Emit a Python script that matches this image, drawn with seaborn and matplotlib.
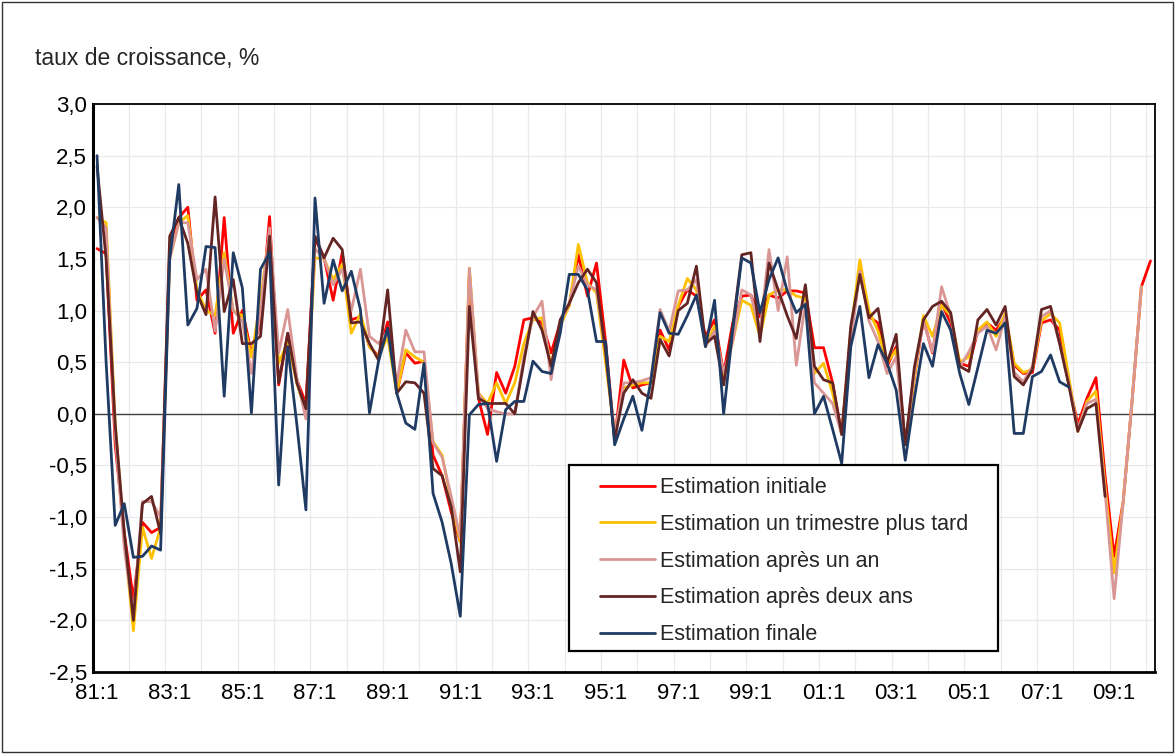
import numpy as np
import pandas as pd
import matplotlib
matplotlib.use("Agg")
import matplotlib.pyplot as plt
from matplotlib.patches import Rectangle
import seaborn as sns

# --- données (taux de croissance trimestriel, %) 81:1 -> 10:1 ---
initiale = [1.60, 1.55, -0.30, -1.15, -1.80, -1.05, -1.15, -1.10, 1.60, 1.90,
            2.00, 1.10, 1.20, 0.78, 1.90, 0.78, 1.00, 0.59, 0.88, 1.91,
            0.28, 0.78, 0.33, 0.10, 1.70, 1.51, 1.10, 1.56, 0.91, 0.94,
            0.65, 0.56, 0.89, 0.20, 0.59, 0.49, 0.51, -0.40, -0.60, -0.95,
            -1.24, 1.35, 0.15, -0.20, 0.40, 0.20, 0.46, 0.91, 0.93, 0.88,
            0.59, 0.88, 1.05, 1.54, 1.14, 1.46, 0.70, -0.25, 0.52, 0.25,
            0.28, 0.30, 0.81, 0.62, 1.04, 1.20, 1.14, 0.75, 0.91, 0.39,
            0.88, 1.14, 1.15, 0.94, 1.15, 1.12, 1.19, 1.19, 1.17, 0.64,
            0.64, 0.30, -0.20, 0.75, 1.40, 0.94, 0.88, 0.46, 0.65, -0.30,
            0.35, 0.91, 0.59, 1.07, 0.88, 0.49, 0.46, 0.81, 0.88, 0.81,
            0.94, 0.47, 0.39, 0.40, 0.88, 0.91, 0.81, 0.30, -0.10, 0.15,
            0.35, -0.60, -1.38, -0.85, 0.15, 1.23, 1.48]

un_trimestre = [1.90, 1.85, -0.10, -1.20, -2.10, -1.10, -1.40, -1.10, 1.50, 1.85,
                1.92, 1.20, 1.00, 0.95, 1.56, 1.00, 0.95, 0.55, 1.10, 1.75,
                0.49, 0.70, 0.30, 0.00, 1.51, 1.50, 1.30, 1.45, 0.78, 0.97,
                0.65, 0.55, 0.75, 0.20, 0.62, 0.55, 0.50, -0.27, -0.40, -0.85,
                -1.24, 1.41, 0.20, 0.10, 0.30, 0.10, 0.30, 0.68, 0.91, 0.93,
                0.46, 0.85, 1.05, 1.64, 1.27, 1.17, 0.50, -0.20, 0.25, 0.28,
                0.30, 0.30, 0.75, 0.70, 1.05, 1.31, 1.20, 0.65, 0.85, 0.35,
                0.70, 1.10, 1.05, 0.75, 1.15, 1.20, 1.20, 1.14, 1.12, 0.39,
                0.49, 0.20, -0.20, 0.80, 1.49, 1.00, 0.80, 0.49, 0.62, -0.30,
                0.35, 0.95, 0.75, 1.05, 0.95, 0.50, 0.55, 0.81, 0.89, 0.75,
                0.97, 0.49, 0.40, 0.43, 0.90, 0.97, 0.88, 0.36, -0.17, 0.12,
                0.22, -0.70, -1.54, -0.85, 0.15, 1.23]

un_an = [1.90, 1.80, -0.20, -1.30, -1.95, -0.85, -0.85, -1.00, 1.50, 1.85,
         1.85, 1.30, 1.40, 0.80, 1.50, 1.00, 0.90, 0.39, 1.00, 1.80,
         0.59, 1.01, 0.35, -0.05, 1.60, 1.50, 1.25, 1.40, 1.00, 1.40,
         0.75, 0.68, 0.80, 0.30, 0.81, 0.60, 0.60, -0.28, -0.42, -0.80,
         -1.20, 1.41, 0.20, 0.05, 0.02, 0.00, 0.00, 0.55, 0.94, 1.09,
         0.33, 0.88, 1.07, 1.43, 1.25, 1.20, 0.60, -0.20, 0.30, 0.30,
         0.32, 0.35, 1.01, 0.80, 1.19, 1.20, 1.30, 0.65, 0.80, 0.40,
         0.70, 1.20, 1.15, 0.80, 1.59, 1.00, 1.52, 0.47, 1.07, 0.30,
         0.20, 0.10, -0.20, 0.70, 1.38, 0.90, 0.70, 0.39, 0.55, -0.30,
         0.40, 0.90, 0.60, 1.23, 0.95, 0.45, 0.60, 0.78, 0.85, 0.62,
         0.94, 0.40, 0.31, 0.46, 0.94, 1.00, 0.68, 0.30, -0.15, 0.10,
         0.14, -0.75, -1.79, -0.85, 0.15, 1.23]

deux_ans = [2.40, 1.50, -0.10, -1.15, -2.00, -0.87, -0.80, -1.16, 1.72, 1.90,
            1.65, 1.17, 0.96, 2.10, 0.99, 1.30, 0.68, 0.68, 0.75, 1.72,
            0.30, 0.78, 0.30, 0.05, 1.72, 1.51, 1.70, 1.59, 0.88, 0.89,
            0.68, 0.52, 1.20, 0.20, 0.31, 0.30, 0.20, -0.53, -0.60, -0.90,
            -1.53, 1.04, 0.15, 0.10, 0.10, 0.10, 0.00, 0.50, 0.99, 0.81,
            0.46, 0.91, 1.07, 1.27, 1.40, 1.27, 0.60, -0.25, 0.20, 0.33,
            0.20, 0.15, 0.72, 0.56, 1.00, 1.07, 1.43, 0.68, 0.75, 0.28,
            0.85, 1.54, 1.56, 0.70, 1.46, 1.20, 0.95, 0.73, 1.25, 0.46,
            0.33, 0.30, -0.20, 0.85, 1.35, 0.93, 1.02, 0.49, 0.77, -0.30,
            0.45, 0.91, 1.04, 1.09, 0.98, 0.46, 0.41, 0.91, 1.01, 0.86,
            1.04, 0.36, 0.28, 0.43, 1.01, 1.04, 0.68, 0.28, -0.17, 0.05,
            0.10, -0.80]

finale = [2.50, 0.50, -1.08, -0.87, -1.39, -1.38, -1.28, -1.32, 1.50, 2.22,
          0.86, 1.02, 1.62, 1.61, 0.17, 1.56, 1.22, 0.01, 1.40, 1.56,
          -0.69, 0.65, -0.10, -0.93, 2.09, 1.07, 1.49, 1.19, 1.38, 1.01,
          0.01, 0.51, 0.83, 0.20, -0.09, -0.15, 0.49, -0.77, -1.05, -1.45,
          -1.96, -0.01, 0.09, 0.10, -0.46, 0.04, 0.12, 0.12, 0.51, 0.41,
          0.39, 0.78, 1.35, 1.35, 1.20, 0.70, 0.70, -0.30, -0.05, 0.17,
          -0.16, 0.33, 0.98, 0.78, 0.77, 0.95, 1.15, 0.65, 1.10, 0.00,
          0.81, 1.51, 1.46, 0.98, 1.30, 1.51, 1.19, 0.98, 1.06, 0.00,
          0.17, -0.15, -0.48, 0.65, 1.04, 0.35, 0.67, 0.49, 0.23, -0.45,
          0.15, 0.68, 0.46, 0.99, 0.81, 0.39, 0.09, 0.45, 0.81, 0.78,
          0.88, -0.19, -0.19, 0.36, 0.41, 0.57, 0.31, 0.26]

series_noms = ["Estimation initiale", "Estimation un trimestre plus tard",
               "Estimation après un an", "Estimation après deux ans",
               "Estimation finale"]
couleurs = ["#FF0000", "#FFC000", "#D99694", "#632523", "#1F3B63"]

premiere_annee = 1981
nb_trimestres = 117
etiquettes_x = [f"{(premiere_annee + 2 * k) % 100:02d}:1" for k in range(15)]

# --- table longue pour seaborn ---
frames = []
for nom, vals in zip(series_noms, [initiale, un_trimestre, un_an, deux_ans, finale]):
    frames.append(pd.DataFrame({"t": np.arange(len(vals)), "val": vals, "serie": nom}))
df = pd.concat(frames, ignore_index=True)

sns.set_theme(style="white")
plt.rcParams["font.family"] = ["Liberation Sans", "DejaVu Sans"]

fig = plt.figure(figsize=(11.75, 7.54), dpi=100)
ax = fig.add_axes([92.5 / 1175, 1 - 672 / 754, (1155 - 92.5) / 1175, (672 - 104) / 754])

ax.axhline(0, color="#404040", lw=1.0, zorder=1)
sns.lineplot(data=df, x="t", y="val", hue="serie", hue_order=series_noms,
             palette=couleurs, linewidth=2.0, ax=ax, legend=True, zorder=3)

ax.set_xlim(-0.5, nb_trimestres - 0.5)
ax.set_ylim(-2.5, 3.0)
ax.set_xticks(np.arange(0, nb_trimestres, 8))
ax.set_xticklabels(etiquettes_x)
ax.set_xticks(np.arange(-0.5, nb_trimestres, 4), minor=True)
yt = np.arange(-2.5, 3.01, 0.5)
ax.set_yticks(yt)
ax.set_yticklabels([f"{v:.1f}".replace(".", ",") for v in yt])
ax.tick_params(axis="both", which="both", length=0, labelsize=16, colors="#000000")
ax.tick_params(axis="x", pad=8)
ax.tick_params(axis="y", pad=4)
ax.grid(False)
ax.grid(True, which="minor", axis="x", color="#E8E8EE", lw=0.9)
ax.grid(True, which="major", axis="y", color="#E8E8EE", lw=0.9)
ax.set_axisbelow(True)
ax.set_xlabel("")
ax.set_ylabel("")
for sp in ax.spines.values():
    sp.set_visible(True)
    sp.set_color("black")
    sp.set_linewidth(1.3)
ax.spines["left"].set_linewidth(2.2)
ax.spines["bottom"].set_linewidth(2.0)

# legende: cadre dessine a part
ax.add_patch(Rectangle((0.4485, 0.037), 0.4038, 0.327, transform=ax.transAxes,
                       facecolor="white", edgecolor="black", lw=1.6, zorder=5))
leg = ax.legend(loc="upper left", bbox_to_anchor=(0.4776, 0.343), frameon=False,
                fontsize=15.5, handlelength=2.55, handletextpad=0.25,
                labelspacing=0.73, borderpad=0, borderaxespad=0)
leg.set_zorder(6)
for line in leg.get_lines():
    line.set_linewidth(2.0)

fig.text(35 / 1175, 1 - 58 / 754, "taux de croissance, %", fontsize=16.5,
         va="center", ha="left")
fig.patches.append(Rectangle((0.002, 0.002), 0.996, 0.995, transform=fig.transFigure,
                             fill=False, edgecolor="#333333", lw=1.0))

fig.savefig("out.png", dpi=100)
